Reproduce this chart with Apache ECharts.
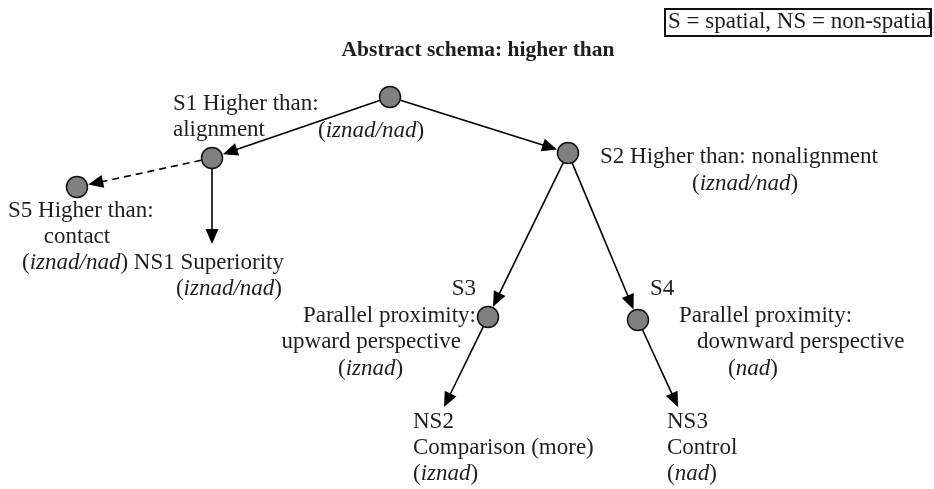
<!DOCTYPE html>
<html><head><meta charset="utf-8">
<script src="https://cdn.jsdelivr.net/npm/echarts@6/dist/echarts.min.js"></script>
<style>html,body{margin:0;padding:0;background:#fff}#c{width:934px;height:489px}</style>
</head><body><div id="c"></div>
<script>
// ---- data ----
const nodeNames = ['root', 'S1', 'S2', 'S5', 'S3', 'S4', 'NS1', 'NS2', 'NS3'];
const nodeX     = [390, 212, 568, 77, 488, 638, 212, 444, 678];
const nodeY     = [97, 158, 153, 187, 317, 320, 244, 407, 407];
const nodeIsCircle = [1, 1, 1, 1, 1, 1, 0, 0, 0];
const edgeFrom  = ['root', 'root', 'S1', 'S1', 'S2', 'S2', 'S3', 'S4'];
const edgeTo    = ['S1', 'S2', 'S5', 'NS1', 'S3', 'S4', 'NS2', 'NS3'];
const edgeDashed = [0, 0, 1, 0, 0, 0, 0, 0];
const titleText = 'Abstract schema: higher than';
const legendText = 'S = spatial, NS = non-spatial';

const R = 10.5, ARROW = 15;
const FONT = 'Liberation Serif';
const idx = n => nodeNames.indexOf(n);

const edgeData = edgeFrom.map((f, k) => {
  const a = idx(f), b = idx(edgeTo[k]);
  const px = nodeX[a], py = nodeY[a], qx = nodeX[b], qy = nodeY[b];
  const dx = qx - px, dy = qy - py, L = Math.hypot(dx, dy);
  const ux = dx / L, uy = dy / L;
  const rs = nodeIsCircle[a] ? R + 0.5 : 0;
  const rt = nodeIsCircle[b] ? R + 1 : 0;
  const tipX = qx - ux * rt, tipY = qy - uy * rt;
  return {
    coords: [[px + ux * rs, py + uy * rs], [tipX - ux * ARROW / 2, tipY - uy * ARROW / 2]],
    lineStyle: edgeDashed[k] ? { type: [7, 5] } : { type: 'solid' }
  };
});
const circleData = nodeNames.map((n, i) => nodeIsCircle[i] ? [nodeX[i], nodeY[i]] : null).filter(Boolean);

const rich = {
  n: { fontFamily: FONT, fontSize: 23, fill: '#1e1e1e' },
  i: { fontFamily: FONT, fontSize: 23, fill: '#1e1e1e', fontStyle: 'italic' }
};
function T(x, y, text, align, extra) {
  return {
    type: 'text', x: x, y: y, silent: true,
    style: Object.assign({
      text: text, fontFamily: FONT, fontSize: 23, fill: '#1e1e1e',
      align: align, verticalAlign: 'middle', textAlign: align, textVerticalAlign: 'middle',
      rich: rich
    }, extra || {})
  };
}
const IZ = '{n|(}{i|iznad/nad}{n|)}';
const texts = [
  T(478, 50, titleText, 'center', { fontWeight: 'bold', fontSize: 21.5 }),
  T(668, 22, legendText, 'left'),
  T(173, 104, 'S1 Higher than:', 'left'),
  T(173, 130, 'alignment', 'left'),
  T(318, 131, IZ, 'left'),
  T(600, 157, 'S2 Higher than: nonalignment', 'left'),
  T(692, 184, IZ, 'left'),
  T(8, 211, 'S5 Higher than:', 'left'),
  T(77, 237, 'contact', 'center'),
  T(22, 263, IZ + '{n| NS1 Superiority}', 'left'),
  T(282, 289, IZ, 'right'),
  T(476, 289, 'S3', 'right'),
  T(476, 316, 'Parallel proximity:', 'right'),
  T(461, 342, 'upward perspective', 'right'),
  T(338, 369, '{n|(}{i|iznad}{n|)}', 'left'),
  T(650, 289, 'S4', 'left'),
  T(679, 316, 'Parallel proximity:', 'left'),
  T(697, 342, 'downward perspective', 'left'),
  T(728, 369, '{n|(}{i|nad}{n|)}', 'left'),
  T(413, 422, 'NS2', 'left'),
  T(413, 448, 'Comparison (more)', 'left'),
  T(413, 474, '{n|(}{i|iznad}{n|)}', 'left'),
  T(667, 422, 'NS3', 'left'),
  T(667, 448, 'Control', 'left'),
  T(667, 474, '{n|(}{i|nad}{n|)}', 'left'),
  { type: 'rect', silent: true, shape: { x: 665, y: 9, width: 266, height: 27 },
    style: { fill: 'none', stroke: '#111', lineWidth: 2 } }
];

const chart = echarts.init(document.getElementById('c'), null, { renderer: 'canvas' });
chart.setOption({
  backgroundColor: '#fff',
  animation: false,
  grid: { left: 0, right: 0, top: 0, bottom: 0 },
  xAxis: { type: 'value', min: 0, max: 934, show: false },
  yAxis: { type: 'value', min: 0, max: 489, inverse: true, show: false },
  series: [
    {
      type: 'lines', coordinateSystem: 'cartesian2d', silent: true, z: 2,
      symbol: ['none', 'triangle'], symbolSize: [1, [13, ARROW]],
      lineStyle: { color: '#000', width: 1.6, opacity: 1 },
      itemStyle: { color: '#000' },
      data: edgeData
    },
    {
      type: 'scatter', silent: true, z: 3,
      symbol: 'circle', symbolSize: 21,
      itemStyle: { color: '#808080', borderColor: '#111', borderWidth: 1.5, opacity: 1 },
      data: circleData
    }
  ],
  graphic: { elements: texts }
});
</script></body></html>
